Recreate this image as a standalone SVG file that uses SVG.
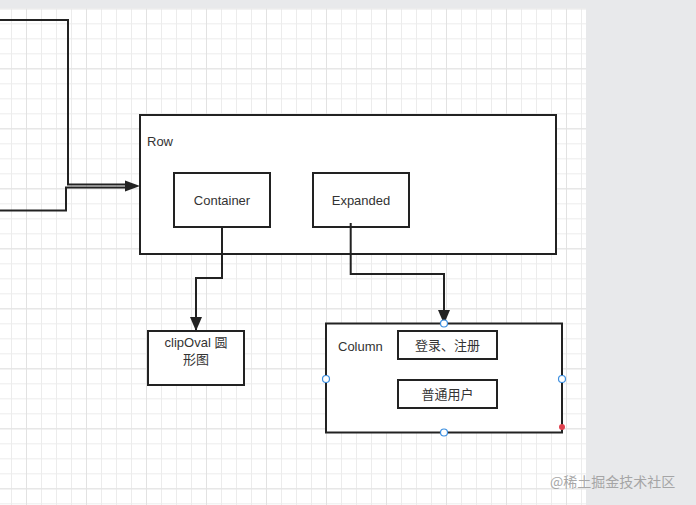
<svg xmlns="http://www.w3.org/2000/svg" width="696" height="505" viewBox="0 0 696 505">
<style>
.box{fill:#fff;stroke:#222;stroke-width:2}
.ln{fill:none;stroke:#222;stroke-width:2}
.t{font-family:"Liberation Sans","Noto Sans CJK SC",sans-serif;font-size:13px;fill:#333}
.c{text-anchor:middle;dominant-baseline:central}
.h{fill:#fff;stroke:#3d8fe0;stroke-width:1.2}
</style>
<defs>
<pattern id="minor" x="11" y="8.3" width="15" height="15" patternUnits="userSpaceOnUse">
<path d="M0.5,0 V15 M0,0.5 H15" fill="none" stroke="#ececec" stroke-width="1"/>
</pattern>
<pattern id="major" x="26" y="8.3" width="60" height="60" patternUnits="userSpaceOnUse">
<path d="M0.5,0 V60 M0,0.5 H60" fill="none" stroke="#e2e2e2" stroke-width="1"/>
</pattern>
<marker id="arr" markerWidth="14" markerHeight="12" refX="13" refY="6" orient="auto" markerUnits="userSpaceOnUse" overflow="visible">
<path d="M0,0 L14,6 L0,12 Z" fill="#222"/>
</marker>
</defs>
<rect x="0" y="0" width="696" height="505" fill="#e8e9eb"/>
<rect x="0" y="8.5" width="586" height="497" fill="#fff"/>
<rect x="0" y="8.5" width="586" height="497" fill="url(#minor)"/>
<rect x="0" y="8.5" width="586" height="497" fill="url(#major)"/>

<g id="row">
<rect class="box" x="140" y="115" width="416" height="139"/>
<text class="t" x="147" y="146">Row</text>
</g>
<g id="container">
<rect class="box" x="174" y="173" width="96" height="54"/>
<text class="t c" x="222" y="200">Container</text>
</g>
<g id="expanded">
<rect class="box" x="313" y="173" width="96" height="54"/>
<text class="t c" x="361" y="200">Expanded</text>
</g>
<g id="clipoval">
<rect class="box" x="148" y="331" width="96" height="54"/>
<text class="t c" x="196" y="342">clipOval 圆</text>
<text class="t c" x="196" y="359">形图</text>
</g>
<g id="column">
<rect class="box" x="326" y="323.5" width="236" height="109"/>
<text class="t" x="338" y="350.5">Column</text>
</g>
<g id="login">
<rect class="box" x="398" y="331" width="99" height="28"/>
<text class="t c" x="447.5" y="345">登录、注册</text>
</g>
<g id="user">
<rect class="box" x="398" y="380" width="99" height="28"/>
<text class="t c" x="447.5" y="394">普通用户</text>
</g>

<g id="connectors">
<path class="ln" d="M0,20 H68 V184.5 H130"/>
<path class="ln" d="M0,210.5 H66 V187.5 H130"/>
<path d="M125,180.5 L140,186 L125,191.5 Z" fill="#222"/>
<path class="ln" d="M222,227 V278 H196 V330" marker-end="url(#arr)"/>
<path class="ln" d="M350.7,223 V274 H444 V323" marker-end="url(#arr)"/>
</g>

<g id="handles">
<circle class="h" cx="444" cy="323.5" r="3.5"/>
<circle class="h" cx="326" cy="379" r="3.5"/>
<circle class="h" cx="562" cy="379" r="3.5"/>
<circle class="h" cx="444" cy="432.5" r="3.5"/>
<circle cx="562" cy="427" r="3" fill="#e0424f"/>
</g>

<text x="550" y="487" font-family="'Noto Sans CJK SC',sans-serif" font-size="14" fill="#9a9a9a" opacity="0.85">@稀土掘金技术社区</text>
</svg>
